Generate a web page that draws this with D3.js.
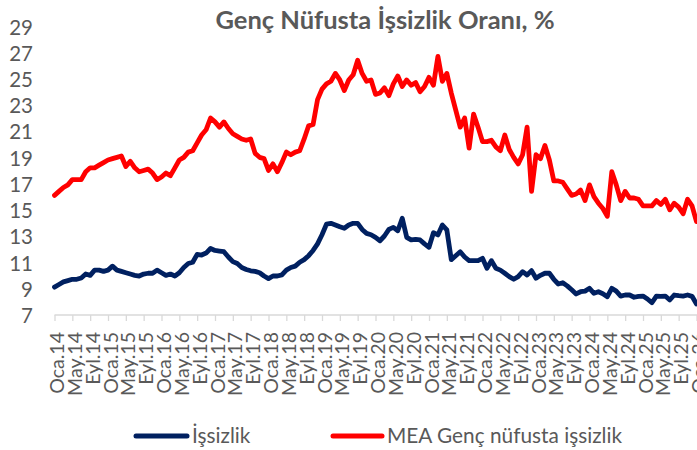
<!DOCTYPE html>
<html><head><meta charset="utf-8">
<script src="https://cdn.jsdelivr.net/npm/d3@7"></script>
<style>
html,body{margin:0;padding:0;background:#fff;}
svg{display:block;}
text{font-family:Lato,"Open Sans",sans-serif;fill:#595959;}
</style></head>
<body><svg id="c" width="697" height="450"></svg>
<script>
const title = "Genç Nüfusta İşsizlik Oranı, %";
const seriesNames = ["İşsizlik", "MEA Genç nüfusta işsizlik"];
const monthNames = ["Oca","Şub","Mar","Nis","May","Haz","Tem","Ağu","Eyl","Eki","Kas","Ara"];
const startYear = 2014;
const nMonths = 145;
const yTicks = [7,9,11,13,15,17,19,21,23,25,27,29];

const unemployment = [
9.2,9.4,9.6,9.7,9.8,9.8,9.9,10.2,10.1,10.5,10.5,10.4,10.5,10.8,10.5,10.4,10.3,10.2,10.1,10.05,
10.2,10.26,10.26,10.5,10.3,10.1,10.2,10.05,10.3,10.7,11.0,11.1,11.7,11.65,11.8,12.15,12.0,11.95,11.9,11.5,
11.15,11.0,10.7,10.55,10.45,10.4,10.3,10.05,9.85,10.05,10.05,10.13,10.5,10.7,10.8,11.1,11.3,11.6,12.0,12.5,
13.2,14.0,14.07,13.94,13.8,13.69,13.94,14.07,14.07,13.6,13.3,13.2,13.0,12.74,13.1,13.6,13.76,13.5,14.45,13.0,
12.8,12.85,12.8,12.5,12.24,13.35,13.18,13.94,13.56,11.3,11.6,11.9,11.5,11.22,11.22,11.22,11.4,10.64,11.22,10.64,
10.5,10.26,10.0,9.8,10.0,10.38,10.13,10.46,9.88,10.1,10.26,10.26,9.8,9.44,9.54,9.3,9.0,8.68,8.85,8.9,
9.11,8.73,8.85,8.7,8.47,9.11,8.9,8.52,8.6,8.6,8.43,8.5,8.52,8.3,8.01,8.52,8.5,8.52,8.22,8.6,
8.55,8.52,8.6,8.5,7.92];

const youthUnemployment = [
16.2,16.5,16.8,17.0,17.4,17.4,17.4,18.0,18.3,18.3,18.5,18.7,18.9,19.0,19.1,19.2,18.4,18.8,18.3,18.0,
18.1,18.2,17.9,17.4,17.6,17.9,17.7,18.3,18.9,19.1,19.5,19.6,20.2,20.8,21.2,22.1,21.8,21.4,21.8,21.3,
20.9,20.7,20.5,20.4,20.5,19.4,19.1,19.0,18.1,18.6,18.0,18.7,19.5,19.3,19.5,19.6,20.5,21.5,21.6,23.5,
24.3,24.7,24.9,25.5,25.0,24.2,25.0,25.4,26.5,25.5,24.9,25.0,23.9,24.0,24.4,23.8,24.7,25.3,24.5,25.0,
24.6,24.8,24.1,24.5,25.2,24.6,26.8,24.9,25.5,24.0,22.7,21.4,22.1,19.8,22.4,21.4,20.3,20.3,20.4,19.9,
19.6,20.8,19.7,19.1,18.6,19.3,21.4,16.5,19.3,19.0,20.0,18.9,17.3,17.3,17.2,16.7,16.2,16.3,16.6,15.8,
17.0,16.1,15.6,15.2,14.6,18.0,17.0,15.8,16.5,16.0,16.0,15.9,15.4,15.4,15.4,15.8,15.5,15.9,15.1,15.6,
15.3,14.8,15.9,15.4,14.2];

const categories = d3.range(nMonths).map(i => monthNames[i % 12] + "." + String((startYear + Math.floor(i/12)) % 100).padStart(2,"0"));
const tickCats = categories.filter((d,i) => i % 4 === 0);

const svg = d3.select("#c");
const x = d3.scalePoint().domain(categories).range([54.5, 696.5]);
const y = d3.scaleLinear().domain([7, 29]).range([316, 27.5]);

// x axis
const xAxis = svg.append("g").attr("transform", "translate(0,315)")
  .call(d3.axisBottom(x).tickValues(tickCats).tickSize(6).tickPadding(9).tickSizeOuter(0));
xAxis.select(".domain").attr("stroke", "#d9d9d9").attr("stroke-width", 1.3)
  .attr("d", `M${x(categories[0])},0H697`);
xAxis.selectAll(".tick line").attr("stroke", "#d9d9d9").attr("stroke-width", 1.3);
xAxis.selectAll(".tick text")
  .attr("transform", "rotate(-90)")
  .attr("text-anchor", "end")
  .attr("x", -17).attr("y", 2).attr("dy", "0.36em")
  .style("font-family", "Lato, sans-serif").style("font-size", "19.5px").attr("fill", "#595959");

// y axis labels (no line)
const yAxis = svg.append("g").attr("transform", "translate(33,0)")
  .call(d3.axisLeft(y).tickValues(yTicks).tickSize(0).tickPadding(0));
yAxis.select(".domain").remove();
yAxis.selectAll(".tick text").style("font-family", "Lato, sans-serif").style("font-size", "20.5px").attr("fill", "#595959");

// lines
const line = d3.line().x((d,i) => x(categories[i])).y(d => y(d)).curve(d3.curveLinear);
svg.append("path").datum(unemployment).attr("d", line)
  .attr("fill", "none").attr("stroke", "#002060").attr("stroke-width", 4.8)
  .attr("stroke-linejoin", "round").attr("stroke-linecap", "round");
svg.append("path").datum(youthUnemployment).attr("d", line)
  .attr("fill", "none").attr("stroke", "#ff0000").attr("stroke-width", 4.8)
  .attr("stroke-linejoin", "round").attr("stroke-linecap", "round");

// title
svg.append("text").attr("x", 385).attr("y", 29).attr("text-anchor", "middle")
  .style("font-size", "25.5px").style("font-weight", "bold").attr("fill", "#595959")
  .text(title);

// legend
const legend = [
  {name: seriesNames[0], color: "#002060", x1: 136, x2: 187},
  {name: seriesNames[1], color: "#ff0000", x1: 333, x2: 382}
];
const lg = svg.append("g");
legend.forEach(l => {
  lg.append("line").attr("x1", l.x1).attr("x2", l.x2).attr("y1", 436).attr("y2", 436)
    .attr("stroke", l.color).attr("stroke-width", 5).attr("stroke-linecap", "round");
  lg.append("text").attr("x", l.x2 + 5).attr("y", 443).style("font-size", "20.8px").attr("fill", "#595959").text(l.name);
});
</script></body></html>
